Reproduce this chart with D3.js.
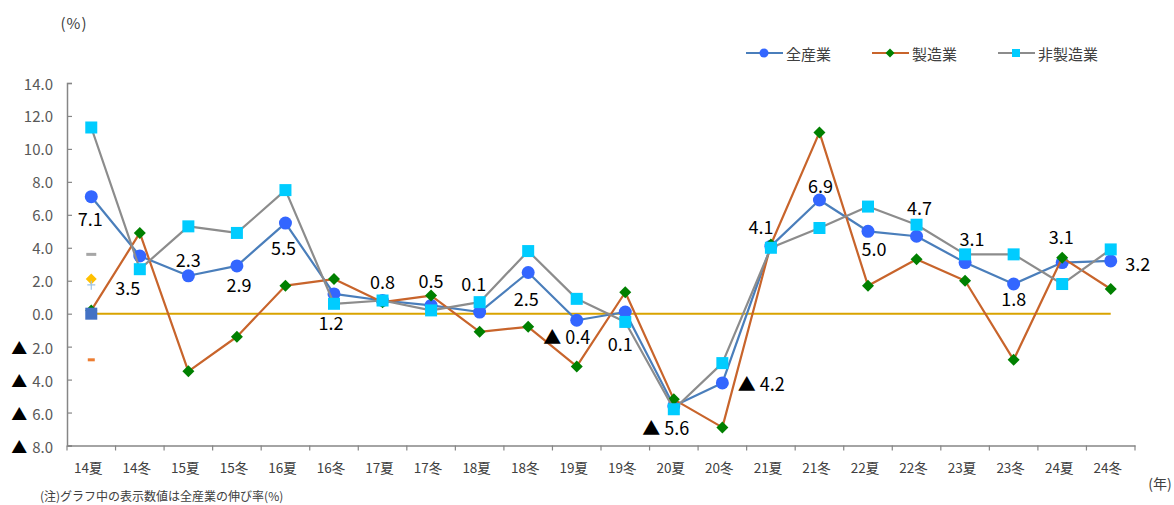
<!DOCTYPE html>
<html><head><meta charset="utf-8">
<script src="https://cdn.jsdelivr.net/npm/d3@7"></script>
<style>
html,body{margin:0;padding:0;background:#fff;}
svg{display:block;font-family:"Noto Sans CJK JP","Noto Sans",sans-serif;}
</style></head>
<body>
<svg id="chart" width="1174" height="505"></svg>
<script>
const categories = ["14夏","14冬","15夏","15冬","16夏","16冬","17夏","17冬","18夏","18冬","19夏","19冬","20夏","20冬","21夏","21冬","22夏","22冬","23夏","23冬","24夏","24冬"];
const allIndustry = [7.1,3.5,2.3,2.9,5.5,1.2,0.8,0.5,0.1,2.5,-0.4,0.1,-5.6,-4.2,4.1,6.9,5.0,4.7,3.1,1.8,3.1,3.2];
const manufacturing = [0.2,4.9,-3.5,-1.4,1.7,2.1,0.7,1.1,-1.1,-0.8,-3.2,1.3,-5.2,-6.9,4.2,11.0,1.7,3.3,2.0,-2.8,3.4,1.5];
const nonManufacturing = [11.3,2.7,5.3,4.9,7.5,0.6,0.8,0.2,0.7,3.8,0.9,-0.5,-5.8,-3.0,4.0,5.2,6.5,5.4,3.6,3.6,1.8,3.9];
const yTicks = [14,12,10,8,6,4,2,0,-2,-4,-6,-8];
const seriesNames = ["全産業","製造業","非製造業"];
// stray marks of hidden series at the first category (as in the reference)
const strayMarks = [
  {cat:"14夏", value:3.6, kind:"dashGray"},
  {cat:"14夏", value:2.1, kind:"diamondGold"},
  {cat:"14夏", value:1.75, kind:"plusBlue"},
  {cat:"14夏", value:0.0, kind:"squareBlue"},
  {cat:"14夏", value:-2.8, kind:"dashOrange"}
];
// label offsets (layout) for the 全産業 value labels
const labelOffsets = [[-1,21],[-12,31],[0,-17],[2,18],[-2,24],[-3,28],[0,-20],[0,-25],[-6,-29],[-2,26],[-10,16],[-5,31],[-8,21],[39,0],[-10,-20],[1,-15],[6,17],[3,-29],[7,-25],[0,14],[-1,-27],[27,2]];

const svg = d3.select("#chart");
const L = 67, R = 1135, T = 83, B = 445.5;
const x = d3.scaleBand().domain(categories).range([L, R]);
const cx = c => x(c) + x.bandwidth()/2;
const y = d3.scaleLinear().domain([-8,14]).range([B, T]);
const axisColor = "#868686", textColor = "#404040";

// y axis
const yAxis = svg.append("g").attr("transform",`translate(${L},0)`)
  .call(d3.axisLeft(y).tickValues(yTicks).tickSize(-5).tickFormat(""));
yAxis.select(".domain").attr("stroke",axisColor).attr("stroke-width",1.5);
yAxis.selectAll(".tick line").attr("stroke",axisColor).attr("stroke-width",1.2);
const yl = svg.append("g");
yTicks.forEach(v=>{
  const t = yl.append("text").attr("x",53).attr("y",y(v)).attr("text-anchor","end")
    .attr("dominant-baseline","central").attr("font-size",15).attr("fill","#595959");
  if(v<0){
    t.append("tspan").attr("fill","#000").attr("font-size",16).text("▲");
    t.append("tspan").attr("dx",5).text(Math.abs(v).toFixed(1));
  } else t.text(v.toFixed(1));
});

// x axis
const xAxis = svg.append("g").attr("transform",`translate(0,${B})`)
  .call(d3.axisBottom(x).tickSize(0).tickFormat(""));
xAxis.select(".domain").attr("stroke",axisColor).attr("stroke-width",1.5);
const bounds = categories.map(c=>x(c)).concat([R]);
svg.append("g").selectAll("line").data(bounds).join("line")
  .attr("x1",d=>d).attr("x2",d=>d).attr("y1",B).attr("y2",B+5)
  .attr("stroke",axisColor).attr("stroke-width",1.2);
svg.append("g").selectAll("text").data(categories).join("text")
  .attr("x",d=>cx(d)-3).attr("y",467).attr("text-anchor","middle")
  .attr("dominant-baseline","central").attr("font-size",13.5).attr("fill",textColor)
  .text(d=>d);

// zero line
svg.append("line").attr("x1",cx(categories[0])).attr("x2",cx(categories[categories.length-1]))
  .attr("y1",y(0)).attr("y2",y(0)).attr("stroke","#D9A300").attr("stroke-width",2);

const diamondPath = h => `M0,${-h}L${h},0L0,${h}L${-h},0Z`;

// stray marks
const sg = svg.append("g");
strayMarks.forEach(m=>{
  const px = cx(m.cat), py = y(m.value);
  if(m.kind==="dashGray") sg.append("rect").attr("x",px-5).attr("y",py-1.5).attr("width",10).attr("height",3).attr("fill","#A6A6A6");
  if(m.kind==="dashOrange") sg.append("rect").attr("x",px-3.5).attr("y",py-1.5).attr("width",7).attr("height",3).attr("fill","#ED7D31");
  if(m.kind==="diamondGold") sg.append("path").attr("d",diamondPath(5.5)).attr("transform",`translate(${px},${py})`).attr("fill","#FFC000");
  if(m.kind==="plusBlue"){ sg.append("path").attr("d",`M${px-4},${py}H${px+4}M${px},${py-4}V${py+5}`).attr("stroke","#9DC3E6").attr("stroke-width",1.2); }
  if(m.kind==="squareBlue") sg.append("rect").attr("x",px-6).attr("y",py-6).attr("width",12).attr("height",12).attr("fill","#4472C4");
});

const line = d3.line().x((d,i)=>cx(categories[i])).y(d=>y(d));
function drawSeries(vals, lineColor, marker){
  const g = svg.append("g");
  g.append("path").datum(vals).attr("d",line).attr("fill","none").attr("stroke",lineColor).attr("stroke-width",2.2).attr("stroke-linejoin","round");
  vals.forEach((v,i)=>{
    const px = cx(categories[i]), py = y(v);
    marker(g,px,py);
  });
}
const circleM = (g,px,py)=>g.append("circle").attr("cx",px).attr("cy",py).attr("r",6.5).attr("fill","#3366FF");
const diamondM = (g,px,py)=>g.append("path").attr("d",diamondPath(6)).attr("transform",`translate(${px},${py})`).attr("fill","#008000");
const squareM = (g,px,py)=>g.append("rect").attr("x",px-6).attr("y",py-6).attr("width",12).attr("height",12).attr("fill","#00CCFF");

drawSeries(allIndustry, "#4A7EBB", circleM);
drawSeries(manufacturing, "#C8642B", diamondM);
drawSeries(nonManufacturing, "#8C8C8C", squareM);
sg.raise();

// value labels
const lg = svg.append("g");
allIndustry.forEach((v,i)=>{
  const px = cx(categories[i]) + labelOffsets[i][0], py = y(v) + labelOffsets[i][1];
  const t = lg.append("text").attr("x",px).attr("y",py).attr("text-anchor","middle")
    .attr("dominant-baseline","central").attr("font-size",18).attr("fill","#000");
  if(v<0){
    t.append("tspan").text("▲");
    t.append("tspan").attr("dx",4).text(Math.abs(v).toFixed(1));
  } else t.text(v.toFixed(1));
});

// legend
const legend = [
  {name:seriesNames[0], color:"#4A7EBB", m:"c", x:746},
  {name:seriesNames[1], color:"#C8642B", m:"d", x:872},
  {name:seriesNames[2], color:"#8C8C8C", m:"s", x:998}
];
legend.forEach(d=>{
  const g = svg.append("g");
  g.append("line").attr("x1",d.x).attr("x2",d.x+37).attr("y1",53).attr("y2",53).attr("stroke",d.color).attr("stroke-width",2.2);
  if(d.m==="c") g.append("circle").attr("cx",d.x+18).attr("cy",53).attr("r",4.5).attr("fill","#3366FF");
  if(d.m==="d") g.append("path").attr("d",diamondPath(4.5)).attr("transform",`translate(${d.x+18},53)`).attr("fill","#008000");
  if(d.m==="s") g.append("rect").attr("x",d.x+14).attr("y",49).attr("width",8).attr("height",8).attr("fill","#00CCFF");
  g.append("text").attr("x",d.x+40).attr("y",53).attr("dominant-baseline","central").attr("font-size",15).attr("fill",textColor).text(d.name);
});

// unit labels and note
svg.append("text").attr("x",74).attr("y",22).attr("text-anchor","middle").attr("dominant-baseline","central").attr("font-size",15).attr("letter-spacing",1).attr("fill",textColor).text("(%)");
svg.append("text").attr("x",1160).attr("y",483).attr("text-anchor","middle").attr("dominant-baseline","central").attr("font-size",14).attr("fill",textColor).text("(年)");
svg.append("text").attr("x",40).attr("y",495).attr("dominant-baseline","central").attr("font-size",12).attr("fill",textColor).text("(注)グラフ中の表示数値は全産業の伸び率(%)");
</script>
</body></html>
